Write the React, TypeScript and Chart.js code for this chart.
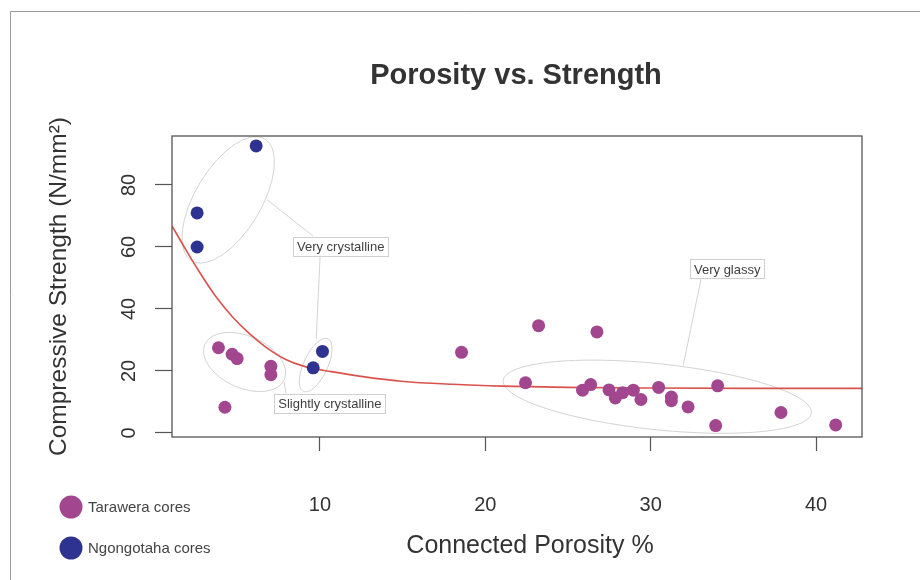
import React, { useEffect, useRef } from "react";
import { Chart, registerables } from "chart.js";

Chart.register(...registerables);

// ---- Data ----
const taraweraX = [3.86, 4.69, 4.99, 7.03, 7.03, 4.25, 18.56, 23.22, 26.75, 22.43, 25.88, 26.37, 27.48, 27.86, 28.3, 28.95, 29.41, 30.48, 31.25, 31.25, 32.26, 34.05, 33.93, 37.88, 41.19];
const taraweraY = [27.5, 25.4, 24.0, 21.5, 18.8, 8.3, 26.0, 34.6, 32.6, 16.2, 13.8, 15.6, 13.9, 11.3, 13.0, 13.8, 10.8, 14.7, 11.6, 10.4, 8.4, 15.2, 2.4, 6.6, 2.6];

const ngongotahaX = [6.14, 2.57, 2.57, 10.15, 9.59];
const ngongotahaY = [92.6, 71.0, 60.0, 26.3, 21.0];

// fitted curve
const fitX = [1.05, 1.9, 2.7, 3.7, 4.7, 5.7, 6.7, 7.9, 9.1, 10.7, 12.7, 14.9, 18, 21, 25, 30, 36, 42.78];
const fitY = [66.8, 59.0, 52.0, 44.0, 37.5, 32.2, 27.8, 23.8, 21.4, 19.8, 18.1, 16.7, 15.7, 15.1, 14.7, 14.5, 14.4, 14.4];

const xTicks = [10, 20, 30, 40];
const yTicks = [0, 20, 40, 60, 80];

const seriesNames = ["Tarawera cores", "Ngongotaha cores"];
const seriesColors = ["#a2478f", "#2e3291"];

const titleText = "Porosity vs. Strength";
const xTitle = "Connected Porosity %";
const yTitle = "Compressive Strength (N/mm\u00B2)";

// annotation groups (centre in data units, radii in px, rotation in degrees)
const groupEllipses = [
  { cx: 4.45, cy: 75.2, rx: 71, ry: 33, rot: -59 },
  { cx: 5.44, cy: 22.9, rx: 43.5, ry: 26, rot: 24 },
  { cx: 9.74, cy: 21.9, rx: 29, ry: 12, rot: -65 },
  { cx: 30.4, cy: 11.7, rx: 155, ry: 33, rot: 6 },
];
const groupConnectors = [
  [6.81, 75.2, 9.59, 63.5],
  [10.01, 57.4, 9.77, 30.3],
  [7.83, 16.5, 7.95, 12.6],
  [33.05, 49.7, 31.97, 21.9],
];
const groupLabels = [
  { text: "Very crystalline", x: 11.25, y: 60.3 },
  { text: "Slightly crystalline", x: 10.6, y: 9.6 },
  { text: "Very glassy", x: 34.63, y: 52.9 },
];

const FONT = "'Liberation Sans', Arial, Helvetica, sans-serif";

const decorPlugin = {
  id: "decor",
  beforeDraw(chart: any) {
    const ctx = chart.ctx;
    ctx.save();
    ctx.fillStyle = "#ffffff";
    ctx.fillRect(0, 0, chart.width, chart.height);
    ctx.strokeStyle = "#9a9a9a";
    ctx.lineWidth = 1;
    ctx.beginPath();
    ctx.moveTo(10.5, chart.height);
    ctx.lineTo(10.5, 11.5);
    ctx.lineTo(chart.width, 11.5);
    ctx.stroke();
    ctx.restore();
  },
  beforeDatasetsDraw(chart: any) {
    const ctx = chart.ctx;
    const xs = chart.scales.x;
    const ys = chart.scales.y;
    ctx.save();
    ctx.strokeStyle = "#d4d4d4";
    ctx.lineWidth = 1;
    for (const e of groupEllipses) {
      ctx.beginPath();
      ctx.ellipse(xs.getPixelForValue(e.cx), ys.getPixelForValue(e.cy), e.rx, e.ry, (e.rot * Math.PI) / 180, 0, Math.PI * 2);
      ctx.stroke();
    }
    for (const c of groupConnectors) {
      ctx.beginPath();
      ctx.moveTo(xs.getPixelForValue(c[0]), ys.getPixelForValue(c[1]));
      ctx.lineTo(xs.getPixelForValue(c[2]), ys.getPixelForValue(c[3]));
      ctx.stroke();
    }
    ctx.restore();
  },
  afterDatasetsDraw(chart: any) {
    const ctx = chart.ctx;
    const xs = chart.scales.x;
    const ys = chart.scales.y;
    const area = chart.chartArea;
    ctx.save();
    // labels
    ctx.font = `13px ${FONT}`;
    ctx.textAlign = "center";
    ctx.textBaseline = "middle";
    for (const l of groupLabels) {
      const px = xs.getPixelForValue(l.x);
      const py = ys.getPixelForValue(l.y);
      const w = ctx.measureText(l.text).width + 8;
      const h = 19;
      ctx.fillStyle = "#ffffff";
      ctx.fillRect(px - w / 2, py - h / 2, w, h);
      ctx.strokeStyle = "#d0d0d0";
      ctx.lineWidth = 1;
      ctx.strokeRect(Math.round(px - w / 2) + 0.5, Math.round(py - h / 2) + 0.5, Math.round(w), h);
      ctx.fillStyle = "#404040";
      ctx.fillText(l.text, px, py + 1);
    }
    // plot box
    ctx.strokeStyle = "#555555";
    ctx.lineWidth = 1.3;
    ctx.strokeRect(area.left, area.top, area.right - area.left, area.bottom - area.top);
    // title
    ctx.fillStyle = "#333333";
    ctx.font = `bold 29px ${FONT}`;
    ctx.textAlign = "center";
    ctx.textBaseline = "middle";
    ctx.fillText(titleText, (area.left + area.right) / 2 - 1, 76);
    // x axis title
    ctx.font = `25px ${FONT}`;
    ctx.fillText(xTitle, 530, 546);
    // legend
    const legendY = [507, 548];
    ctx.font = `15px ${FONT}`;
    ctx.textAlign = "left";
    for (let i = 0; i < seriesNames.length; i++) {
      ctx.fillStyle = seriesColors[i];
      ctx.beginPath();
      ctx.arc(71, legendY[i], 11.5, 0, Math.PI * 2);
      ctx.fill();
      ctx.fillStyle = "#444444";
      ctx.fillText(seriesNames[i], 88, legendY[i] + 1);
    }
    ctx.restore();
  },
};

export default function App() {
  const ref = useRef<HTMLCanvasElement>(null);
  useEffect(() => {
    Chart.defaults.font.family = FONT;
    const pts = (xs: number[], ys: number[]) => xs.map((x, i) => ({ x, y: ys[i] }));
    const chart = new Chart(ref.current as HTMLCanvasElement, {
      type: "scatter",
      data: {
        datasets: [
          {
            label: seriesNames[0],
            data: pts(taraweraX, taraweraY),
            backgroundColor: seriesColors[0],
            borderWidth: 0,
            pointRadius: 6.5,
            order: 1,
          },
          {
            label: seriesNames[1],
            data: pts(ngongotahaX, ngongotahaY),
            backgroundColor: seriesColors[1],
            borderWidth: 0,
            pointRadius: 6.5,
            order: 2,
          },
          {
            label: "fit",
            data: pts(fitX, fitY),
            showLine: true,
            borderColor: "#d9534c",
            borderWidth: 1.6,
            pointRadius: 0,
            cubicInterpolationMode: "monotone",
            order: 10,
          } as any,
        ],
      },
      options: {
        responsive: false,
        animation: false,
        devicePixelRatio: 1,
        layout: { padding: { top: 136, right: 58, left: 0, bottom: 0 } },
        plugins: { legend: { display: false }, tooltip: { enabled: false }, title: { display: false } },
        scales: {
          x: {
            type: "linear",
            position: "bottom",
            min: 1.05,
            max: 42.78,
            afterFit: (s: any) => {
              s.height = 143;
            },
            afterBuildTicks: (s: any) => {
              s.ticks = xTicks.map((v) => ({ value: v }));
            },
            ticks: { font: { size: 20 }, color: "#333333", padding: 42, maxRotation: 0, autoSkip: false },
            grid: { drawOnChartArea: false, drawTicks: true, tickLength: 14, tickColor: "#555555", tickWidth: 1.2 },
            border: { display: false },
            title: { display: false },
          },
          y: {
            type: "linear",
            position: "left",
            min: -1.3,
            max: 95.8,
            afterFit: (s: any) => {
              s.width = 172;
            },
            afterBuildTicks: (s: any) => {
              s.ticks = yTicks.map((v) => ({ value: v }));
            },
            ticks: { font: { size: 20 }, color: "#333333", padding: 14, minRotation: 90, maxRotation: 90, crossAlign: "center", autoSkip: false },
            grid: { drawOnChartArea: false, drawTicks: true, tickLength: 17, tickColor: "#555555", tickWidth: 1.2 },
            border: { display: false },
            title: { display: true, text: yTitle, font: { size: 24.5 }, color: "#333333", padding: { top: 45, bottom: 0 } },
          },
        },
      } as any,
      plugins: [decorPlugin],
    });
    return () => chart.destroy();
  }, []);
  return (
    <div style={{ position: "fixed", left: 0, top: 0, width: 920, height: 580, background: "#ffffff" }}>
      <canvas ref={ref} width={920} height={580} style={{ display: "block", width: 920, height: 580 }} />
    </div>
  );
}
